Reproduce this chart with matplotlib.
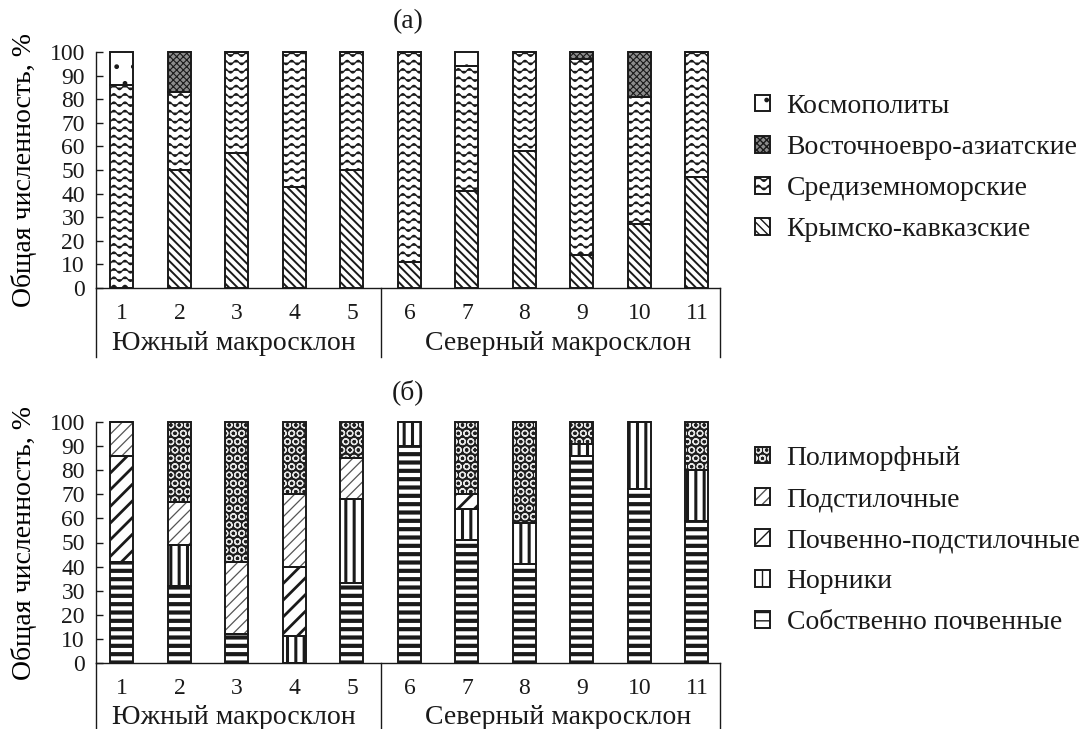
import numpy as np
import matplotlib
matplotlib.use('Agg')
import matplotlib.pyplot as plt
import matplotlib.patches as mpatches
import matplotlib.hatch as mhatch
from matplotlib.path import Path
from matplotlib.legend_handler import HandlerTuple

# ---------------- data ----------------
sites = list(range(1, 12))
site_labels = [str(s) for s in sites]
group_labels = ['Южный макросклон', 'Северный макросклон']
group_divider = 5.5

# (а) zoogeographic groups, % of total abundance
krym_kavk = [0, 50, 57, 43, 50, 11, 41, 58, 14, 27, 47]
sredizem = [86, 33, 43, 57, 50, 89, 53, 42, 83, 54, 53]
vost_evraz = [0, 17, 0, 0, 0, 0, 0, 0, 3, 19, 0]
kosmopol = [14, 0, 0, 0, 0, 0, 6, 0, 0, 0, 0]
labels_a = ['Крымско-кавказские', 'Средиземноморские',
            'Восточноевро-азиатские', 'Космополиты']

# (б) life forms, % of total abundance
sobstv_pochv = [42, 32, 12, 0, 33, 90, 51, 41, 86, 72, 59]
norniki = [0, 17, 0, 11, 35, 10, 13, 17, 5, 28, 21]
pochv_podst = [44, 0, 0, 29, 0, 0, 6, 0, 0, 0, 0]
podstil = [14, 18, 30, 30, 17, 0, 0, 0, 0, 0, 0]
polimorf = [0, 33, 58, 30, 15, 0, 30, 42, 9, 0, 20]
labels_b = ['Собственно почвенные', 'Норники', 'Почвенно-подстилочные',
            'Подстилочные', 'Полиморфный']


# ---------------- custom wavy hatch (replaces '*') ----------------
class WaveHatch(mhatch.HatchPatternBase):
    def __init__(self, hatch, density):
        self.num_lines = int(hatch.count('*') * density)
        self.n_waves = 9
        self.n_pts = self.n_waves * 12 + 1
        self.num_vertices = self.num_lines * self.n_pts

    def set_vertices_and_codes(self, vertices, codes):
        x = np.linspace(0, 1, self.n_pts)
        prof = 0.022 * np.sin(2 * np.pi * self.n_waves * x)
        for i in range(self.num_lines):
            y0 = (i + 0.5) / self.num_lines
            s = slice(i * self.n_pts, (i + 1) * self.n_pts)
            vertices[s, 0] = x
            vertices[s, 1] = y0 + prof
            codes[s] = Path.LINETO
            codes[i * self.n_pts] = Path.MOVETO


mhatch._hatch_types = [WaveHatch if t is mhatch.Stars else t
                       for t in mhatch._hatch_types]

INK = '#1a1a1a'
plt.rcParams['font.family'] = ['Liberation Serif', 'DejaVu Serif']
plt.rcParams['text.color'] = INK
plt.rcParams['axes.edgecolor'] = INK
plt.rcParams['xtick.color'] = INK
plt.rcParams['ytick.color'] = INK
FS = 20      # text
TFS = 17     # tick digits

styles_a = [
    dict(fc='white', hc=INK, hatch='\\\\\\\\', hlw=1.4),
    dict(fc='white', hc=INK, hatch='**', hlw=0.9),
    dict(fc='#8c8c8c', hc=INK, hatch='xxxxx', hlw=0.8),
    dict(fc='white', hc=INK, hatch='.', hlw=1.0),
]
styles_b = [
    dict(fc='white', hc=INK, hatch='--', hlw=3.0),
    dict(fc='white', hc=INK, hatch='||', hlw=2.2),
    dict(fc='white', hc=INK, hatch='//', hlw=2.0),
    dict(fc='white', hc='#555555', hatch='///', hlw=0.9),
    dict(fc='#1e1e1e', hc='#e6e6e6', hatch='OO', hlw=0.9),
]

W, H = 1086, 729
fig = plt.figure(figsize=(W / 100, H / 100), dpi=100)

XL = (0.548, 11.4)


def rect(l, r, t, b):
    return [l / W, 1 - b / H, (r - l) / W, (b - t) / H]


def set_hlw(patches, lw):
    for p in patches:
        if hasattr(p, 'set_hatch_linewidth'):
            p.set_hatch_linewidth(lw)


def stacked(ax, series, styles):
    bottom = np.zeros(len(sites))
    for vals, st in zip(series, styles):
        vals = np.asarray(vals, float)
        with plt.rc_context({'hatch.linewidth': st['hlw']}):
            bars = ax.bar(sites, vals, width=0.4, bottom=bottom,
                          facecolor=st['fc'], edgecolor=st['hc'],
                          hatch=st['hatch'], linewidth=0, clip_on=False,
                          zorder=2)
        set_hlw(bars, st['hlw'])
        ax.bar(sites, vals, width=0.4, bottom=bottom, fill=False,
               edgecolor=INK, linewidth=1.4, clip_on=False, zorder=3)
        bottom += vals


def style_axes(ax, h_px):
    ax.set_xlim(*XL)
    ax.set_ylim(0, 100)
    for s in ['top', 'right']:
        ax.spines[s].set_visible(False)
    for s in ['left', 'bottom']:
        ax.spines[s].set_linewidth(1.0)
    ax.set_yticks(range(0, 101, 10))
    ax.tick_params(axis='y', direction='in', length=5, width=1.0, pad=8,
                   labelsize=TFS)
    ax.set_xticks(sites, site_labels)
    ax.tick_params(axis='x', length=0, pad=11, labelsize=TFS)
    trans = ax.get_xaxis_transform()
    depth = -69 / h_px
    for xv in [XL[0], group_divider, XL[1]]:
        ax.plot([xv, xv], [0, depth], transform=trans, color=INK, lw=1.0,
                clip_on=False)
    centers = [(XL[0] + group_divider) / 2 - 0.08,
               (group_divider + XL[1]) / 2 + 0.13]
    for c, lab in zip(centers, group_labels):
        ax.text(c, -55 / h_px, lab, transform=trans, ha='center',
                va='center', fontsize=FS)
    ax.set_ylabel('Общая численность, %', fontsize=FS)
    ax.yaxis.set_label_coords(-0.095, 0.5)


def add_legend(labels, styles, top_px):
    handles = []
    for st in styles:
        with plt.rc_context({'hatch.linewidth': st['hlw']}):
            p1 = mpatches.Patch(facecolor=st['fc'], edgecolor=st['hc'],
                                hatch=st['hatch'], linewidth=0)
        set_hlw([p1], st['hlw'])
        p2 = mpatches.Patch(facecolor='none', edgecolor=INK, linewidth=1.4)
        handles.append((p1, p2))
    fig.legend(handles[::-1], labels[::-1],
               handler_map={tuple: HandlerTuple(ndivide=1)},
               loc='upper left', bbox_to_anchor=(755 / W, 1 - top_px / H),
               frameon=False, borderpad=0, borderaxespad=0,
               handlelength=0.54, handleheight=0.54, handletextpad=0.6,
               labelspacing=0.58, fontsize=FS)


ax1 = fig.add_axes(rect(96, 720, 52, 288))
stacked(ax1, [krym_kavk, sredizem, vost_evraz, kosmopol], styles_a)
style_axes(ax1, 236)
ax1.text(0.5, 1 + 30 / 236, '(а)', transform=ax1.transAxes, ha='center',
         va='center', fontsize=FS)
add_legend(labels_a, styles_a, 94)

ax2 = fig.add_axes(rect(96, 720, 422, 663))
stacked(ax2, [sobstv_pochv, norniki, pochv_podst, podstil, polimorf],
        styles_b)
style_axes(ax2, 241)
ax2.text(0.5, 1 + 30 / 241, '(б)', transform=ax2.transAxes, ha='center',
         va='center', fontsize=FS)
add_legend(labels_b, styles_b, 446)

fig.savefig('out.png', dpi=100)
